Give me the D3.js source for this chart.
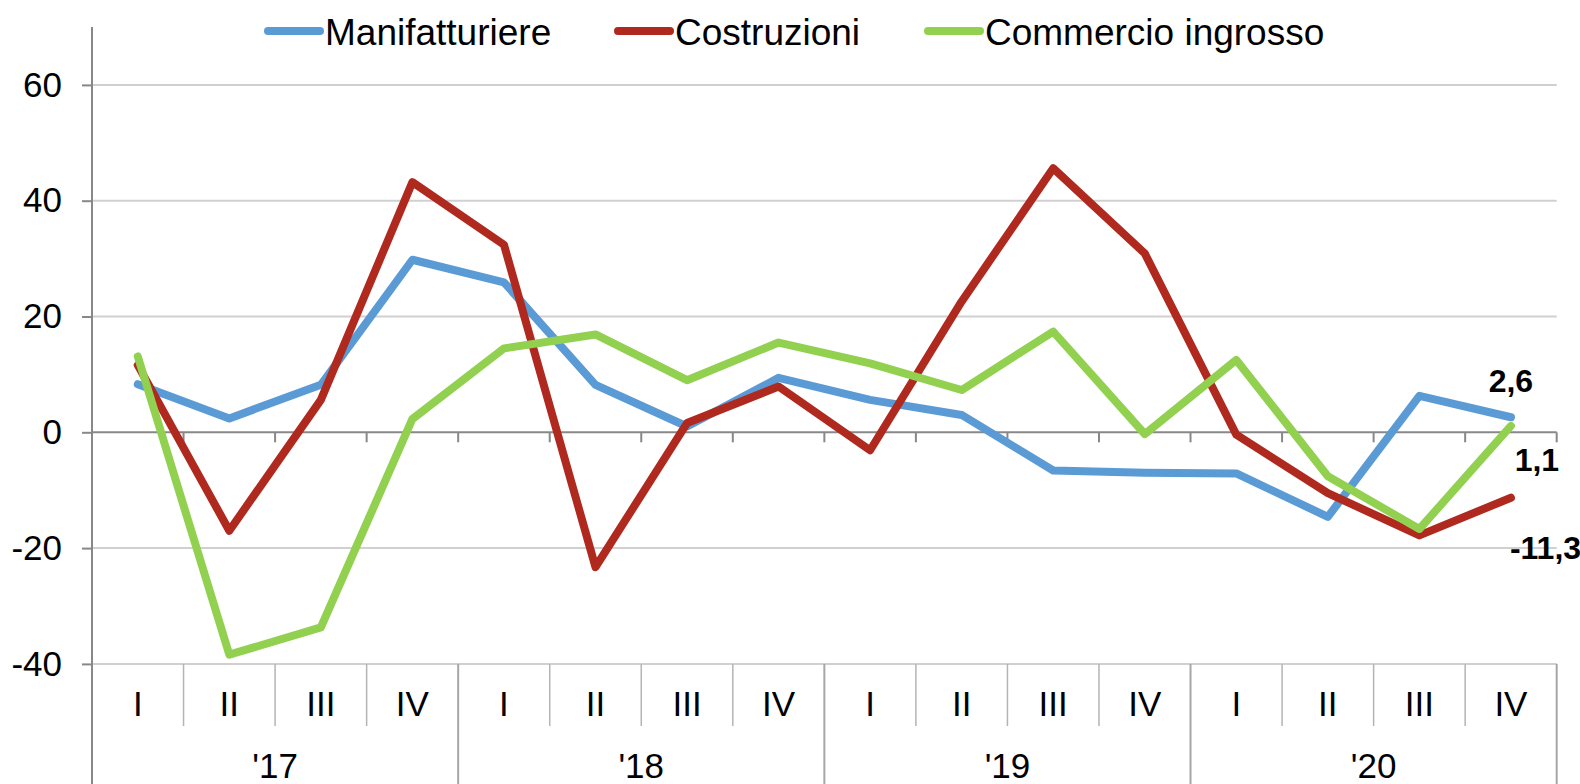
<!DOCTYPE html>
<html>
<head>
<meta charset="utf-8">
<script src="https://cdn.jsdelivr.net/npm/d3@7"></script>
<style>
  html, body { margin: 0; padding: 0; background: #fff; }
  svg { display: block; font-family: "Liberation Sans", Arial, sans-serif; }
</style>
</head>
<body>
<svg id="chart" width="1580" height="784"></svg>
<script>
// ---- data ----
const quarters = ["I","II","III","IV","I","II","III","IV","I","II","III","IV","I","II","III","IV"];
const years = ["'17","'18","'19","'20"];
const manifatturiere = [8.3, 2.4, 8.2, 29.8, 25.9, 8.2, 1.0, 9.4, 5.6, 3.0, -6.6, -7.0, -7.1, -14.6, 6.3, 2.6];
const costruzioni   = [11.6, -17.0, 5.6, 43.2, 32.4, -23.3, 1.6, 7.9, -3.1, 22.6, 45.6, 30.9, -0.4, -10.5, -17.8, -11.3];
const commercio     = [13.1, -38.4, -33.7, 2.3, 14.5, 16.9, 9.0, 15.5, 11.9, 7.3, 17.4, -0.3, 12.5, -7.6, -16.7, 1.1];
const seriesNames = ["Manifatturiere", "Costruzioni", "Commercio ingrosso"];
const seriesColors = ["#5B9BD5", "#B0291F", "#92D050"];
const yTicks = [-40, -20, 0, 20, 40, 60];

(function () {
const series = [manifatturiere, costruzioni, commercio];
const locale = d3.formatLocale({decimal: ",", thousands: ".", grouping: [3], currency: ["", "€"], minus: "-"});
const fmt = locale.format(".1f");
const fmtInt = locale.format("d");

// ---- layout ----
const svg = d3.select("#chart");
const pl = 92, pr = 1556.7, pt = 27, pb = 663.9, bottomEdge = 784;
const x = d3.scaleBand().domain(d3.range(quarters.length)).range([pl, pr]);
const y = d3.scaleLinear().domain([-40, 70]).range([pb, pt]);
const xc = i => x(i) + x.bandwidth() / 2;

// gridlines
svg.append("g").selectAll("line").data(yTicks.filter(t => t !== 0)).join("line")
  .attr("x1", pl).attr("x2", pr)
  .attr("y1", d => y(d)).attr("y2", d => y(d))
  .attr("stroke", "#D0D0D0").attr("stroke-width", 2);

// y axis
const yAxis = svg.append("g").attr("transform", `translate(${pl},0)`)
  .call(d3.axisLeft(y).tickValues(yTicks).tickSize(10).tickPadding(20).tickFormat(fmtInt));
yAxis.select(".domain").remove();
yAxis.selectAll(".tick line").attr("stroke", "#888").attr("stroke-width", 2);
yAxis.selectAll(".tick text").attr("font-size", 35).attr("fill", "#000")
  .attr("font-family", "Liberation Sans, Arial, sans-serif");
svg.append("line").attr("x1", pl).attr("x2", pl).attr("y1", pt).attr("y2", bottomEdge)
  .attr("stroke", "#888").attr("stroke-width", 2);

// zero axis line with ticks
svg.append("line").attr("x1", pl).attr("x2", pr).attr("y1", y(0)).attr("y2", y(0))
  .attr("stroke", "#888").attr("stroke-width", 2);
svg.append("g").selectAll("line").data(d3.range(1, quarters.length + 1)).join("line")
  .attr("x1", i => x(0) + i * x.bandwidth()).attr("x2", i => x(0) + i * x.bandwidth())
  .attr("y1", y(0)).attr("y2", y(0) + 10)
  .attr("stroke", "#888").attr("stroke-width", 2);

// category separators in the label area
svg.append("g").selectAll("line").data(d3.range(1, quarters.length + 1)).join("line")
  .attr("x1", i => x(0) + i * x.bandwidth()).attr("x2", i => x(0) + i * x.bandwidth())
  .attr("y1", pb).attr("y2", i => (i % 4 === 0) ? bottomEdge : 726)
  .attr("stroke", i => (i % 4 === 0) ? "#A6A6A6" : "#B4B4B4").attr("stroke-width", i => (i % 4 === 0) ? 2 : 1.5);

// quarter labels
svg.append("g").selectAll("text").data(quarters).join("text")
  .attr("x", (d, i) => xc(i)).attr("y", 703)
  .attr("text-anchor", "middle").attr("dominant-baseline", "central")
  .attr("font-size", 35).attr("fill", "#000").text(d => d);

// year labels
svg.append("g").selectAll("text").data(years).join("text")
  .attr("x", (d, i) => (xc(i * 4) + xc(i * 4 + 3)) / 2).attr("y", 765)
  .attr("text-anchor", "middle").attr("dominant-baseline", "central")
  .attr("font-size", 35).attr("fill", "#000").text(d => d);

// lines
const line = d3.line().x((d, i) => xc(i)).y(d => y(d));
svg.append("g").selectAll("path").data(series).join("path")
  .attr("d", d => line(d))
  .attr("fill", "none")
  .attr("stroke", (d, i) => seriesColors[i])
  .attr("stroke-width", 8)
  .attr("stroke-linecap", "round")
  .attr("stroke-linejoin", "round");

// end labels
const last = quarters.length - 1;
const labelOffsets = [{dx: 0, dy: -36, anchor: "middle"}, {dx: -1, dy: 50, anchor: "start"}, {dx: 26, dy: 34, anchor: "middle"}];
svg.append("g").selectAll("text").data(series).join("text")
  .attr("x", (d, i) => xc(last) + labelOffsets[i].dx)
  .attr("y", (d, i) => y(d[last]) + labelOffsets[i].dy)
  .attr("text-anchor", (d, i) => labelOffsets[i].anchor)
  .attr("dominant-baseline", "central")
  .attr("font-size", 32).attr("font-weight", "bold").attr("fill", "#000")
  .text(d => fmt(d[last]));

// legend
const legendX = [265, 615, 925];
const lg = svg.append("g").selectAll("g").data(seriesNames).join("g")
  .attr("transform", (d, i) => `translate(${legendX[i]},31)`);
lg.append("line").attr("x1", 3).attr("x2", 55).attr("y1", 0).attr("y2", 0)
  .attr("stroke", (d, i) => seriesColors[i]).attr("stroke-width", 8).attr("stroke-linecap", "round");
lg.append("text").attr("x", 60).attr("y", 1).attr("dominant-baseline", "central")
  .attr("font-size", 37).attr("fill", "#000").text(d => d);
})();
</script>
</body>
</html>
